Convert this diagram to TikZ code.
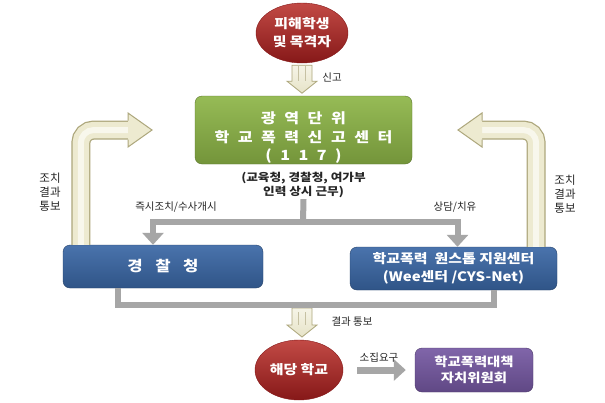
\documentclass[tikz,border=0pt]{standalone}
\usepackage{fontspec}
\setmainfont{Noto Sans CJK KR}
\newfontfamily\boxfont{Noto Sans CJK KR}[FakeStretch=1.15]
\usepackage{xcolor}
\usetikzlibrary{arrows.meta,positioning,shapes.geometric,calc}

\definecolor{boxgreen}{HTML}{8DB547}
\definecolor{boxblue}{HTML}{3A67A5}
\definecolor{boxpurple}{HTML}{7558A2}
\definecolor{ballred}{HTML}{C24A45}
\definecolor{ballreddk}{HTML}{861818}
\definecolor{flowgray}{HTML}{A6A6A6}
\definecolor{cream}{HTML}{EDEAD0}
\definecolor{creamdk}{HTML}{ADA77C}
\newcommand{\widegap}[1]{\spaceskip=#1\relax}

\begin{document}
\begin{tikzpicture}[x=1pt,y=-1pt,
  ball/.style={ellipse, draw=ballreddk, top color=ballred, bottom color=ballreddk, text=white, align=center, inner sep=0pt, font=\boxfont\bfseries\fontsize{13}{18}\selectfont},
  panel/.style={draw=#1!65!black, rounded corners=7pt, top color=#1!92!white, bottom color=#1!82!black, text=white, align=center, inner sep=0pt},
  note/.style={font=\fontsize{10.5}{13.5}\selectfont, text=black!85, align=center, inner sep=1pt},
  flow/.style={draw=flowgray, line width=6pt, -{Triangle[width=21pt,length=12pt]}},
  flowline/.style={draw=flowgray, line width=6pt},
  notifybox/.style={draw=creamdk, top color=cream!50!white, bottom color=cream!90!creamdk, line width=0.8pt},
  bendout/.style={draw=creamdk, line width=19pt, rounded corners=13pt},
  bendin/.style={draw=cream, line width=16.5pt, rounded corners=13pt},
  bendhi/.style={draw=cream!40!white, line width=6pt, rounded corners=13pt}
]
\useasboundingbox[fill=white] (0,0) rectangle (605,402);

% nodes
\node[ball, minimum width=92pt, minimum height=60pt] (victim) at (302,33) {피해학생\\및 목격자};
\node[panel=boxgreen, minimum width=217pt, minimum height=68pt,
  font=\boxfont\bfseries\fontsize{14}{18.5}\selectfont\widegap{8.5pt}] (center) at (303.5,130)
  {\rule{0pt}{27pt}광 역 단 위\\학 교 폭 력 신 고 센 터\\( 1 1 7 )};
\node[note, font=\boxfont\bfseries\fontsize{11}{14}\selectfont, below=7pt of center] (staff) {(교육청, 경찰청, 여가부\\인력 상시 근무)};
\node[panel=boxblue, minimum width=200pt, minimum height=43pt,
  font=\boxfont\bfseries\fontsize{14.5}{18}\selectfont\widegap{12.5pt}] (police) at (163,266.5) {경 찰 청};
\node[panel=boxblue, minimum width=207pt, minimum height=43pt,
  font=\boxfont\bfseries\fontsize{13}{18}\selectfont] (support) at (453.5,268.5) {학교폭력 \ 원스톱 지원센터\\(Wee센터 /CYS-Net)};
\node[ball, minimum width=88pt, minimum height=60pt] (school) at (299,370) {해당 학교};
\node[panel=boxpurple, minimum width=118pt, minimum height=44pt,
  font=\boxfont\bfseries\fontsize{12.5}{16}\selectfont] (council) at (474,370) {학교폭력대책\\자치위원회};

\coordinate (split) at (303,222);
\coordinate (merge) at (302,308);
\coordinate (lhead) at (128,130);
\coordinate (rhead) at (482,130);

% report arrows
\draw[notifybox] ([yshift=-2pt]victim.south) ++(-10,0) -- ++(20,0) -- ++(0,16) -- ++(5,0)
  -- ++(-15,12) -- ++(-15,-12) -- ++(5,0) -- cycle;
\draw[creamdk!70, line width=0.6pt] ([yshift=-2pt]victim.south) ++(-4,1) -- ++(0,15) ++(7,-15) -- ++(0,15);
\node[note] (reportlbl) at (332,77) {신고};
\draw[notifybox] (merge) ++(-10,0) -- ++(20,0) -- ++(0,17) -- ++(5,0)
  -- ++(-15,12) -- ++(-15,-12) -- ++(5,0) -- cycle;
\draw[creamdk!70, line width=0.6pt] (merge) ++(-4,4) -- ++(0,13) ++(7,-13) -- ++(0,13);
\node[note] (resultlbl) at (352,322) {결과 통보};

% feedback arrows
\draw[bendout] ([xshift=18pt]police.north west) |- ([xshift=2pt]lhead);
\draw[bendin] ([xshift=18pt]police.north west) |- ([xshift=2pt]lhead);
\draw[bendhi] ([xshift=18pt]police.north west) |- ([xshift=2pt]lhead);
\fill[cream] (lhead) ++(0,-17) -- ++(24,17) -- ++(-24,17) -- cycle;
\draw[creamdk, line width=1pt] (lhead) ++(0,-9.5) -- ++(0,-7.5) -- ++(24,17) -- ++(-24,17) -- ++(0,-7.5);
\draw[bendout] ([xshift=-21pt]support.north east) |- ([xshift=-2pt]rhead);
\draw[bendin] ([xshift=-21pt]support.north east) |- ([xshift=-2pt]rhead);
\draw[bendhi] ([xshift=-21pt]support.north east) |- ([xshift=-2pt]rhead);
\fill[cream] (rhead) ++(0,-17) -- ++(-24,17) -- ++(24,17) -- cycle;
\draw[creamdk, line width=1pt] (rhead) ++(0,-9.5) -- ++(0,-7.5) -- ++(-24,17) -- ++(24,17) -- ++(0,-7.5);
\node[note, font=\fontsize{11.5}{14}\selectfont] (lback) at (50,192) {조치\\결과\\통보};
\node[note, font=\fontsize{11.5}{14}\selectfont] (rback) at (565,194) {조치\\결과\\통보};

% gray flows
\draw[flowline] (staff.south) -- (split);
\draw[flow] ([xshift=3pt]split) -| ([xshift=-10pt]police.north);
\draw[flow] ([xshift=-3pt]split) -| ([xshift=4pt]support.north);
\node[note] (actlbl) at (176,207) {즉시조치/수사개시};
\node[note] (carelbl) at (455,207) {상담/치유};
\draw[flowline] ([xshift=-45pt]police.south) |- ([yshift=3pt]merge) -| ([xshift=40pt]support.south);
\draw[flow, line width=7pt, shorten <=14pt, shorten >=9pt] (school) -- (council);
\node[note, above=6pt of $(school.east)!.5!(council.west)$] (calllbl) {소집요구};
\end{tikzpicture}
\end{document}
